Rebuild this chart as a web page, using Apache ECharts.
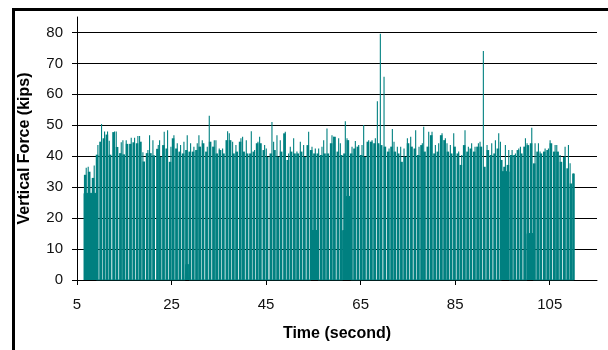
<!DOCTYPE html>
<html>
<head>
<meta charset="utf-8">
<title>Vertical Force</title>
<script src="https://cdn.jsdelivr.net/npm/echarts@6.0.0/dist/echarts.min.js"></script>
<style>
  html, body { margin: 0; padding: 0; background: #fff; }
  #chart { width: 608px; height: 350px; }
</style>
</head>
<body>
<div id="chart"></div>
<script>
// time of each force stroke (second)
const strokeTimes = [
  6.52, 6.95, 7.37, 7.79, 8.15, 8.64, 9.06, 9.42, 9.77, 10.19, 10.55, 10.83, 11.18, 11.46, 11.82, 12.17, 12.52, 12.94, 13.30, 13.65,
  14.00, 14.36, 14.71, 15.06, 15.41, 15.77, 16.12, 16.47, 16.82, 17.18, 17.53, 17.88, 18.24, 18.59, 18.94, 19.29, 19.65, 20.00, 20.35, 20.70,
  21.06, 21.41, 21.83, 22.19, 22.47,
  22.75, 23.10, 23.45, 23.81, 24.16, 24.51, 24.87, 25.15, 25.50, 25.85, 26.21, 26.56, 26.91, 27.26, 27.62, 27.97, 28.32, 28.68, 29.03, 29.38,
  29.73, 30.09, 30.44, 30.79, 31.14, 31.50, 31.85, 32.20, 32.56, 32.98, 33.33, 33.68, 34.04, 34.39, 34.74, 35.09, 35.45, 35.80, 36.15, 36.51,
  36.86, 37.21, 37.56, 37.92, 38.27, 38.62, 38.98, 39.33, 39.68, 40.03,
  40.46, 40.81, 41.16, 41.51, 41.87, 42.22, 42.57, 42.92, 43.28, 43.63, 43.98, 44.34, 44.69, 45.04, 45.39, 45.75, 46.24, 46.59, 46.95, 47.30,
  47.65, 48.00, 48.36, 48.71, 49.06, 49.41, 49.77, 50.12, 50.47, 50.83, 51.18, 51.53, 51.88, 52.24, 52.59, 52.94, 53.30, 53.65, 54.00, 54.35,
  54.71, 55.06, 55.41, 55.76, 56.12, 56.47, 56.82, 57.18, 57.53,
  57.88, 58.24, 58.59, 58.94, 59.30, 59.65, 60.00, 60.35, 60.71, 61.06, 61.41, 61.76, 62.12, 62.47, 62.82, 63.18, 63.53, 63.88, 64.23, 64.59,
  64.94, 65.29, 65.64, 66.00, 66.35, 66.70, 67.06, 67.41, 67.76, 68.11, 68.54, 68.89, 69.17, 69.52, 69.95, 70.30, 70.65, 71.01, 71.36, 71.71,
  72.06, 72.42, 72.77, 73.12, 73.47, 73.83, 74.18, 74.53, 74.89, 75.17,
  75.59, 75.94, 76.29, 76.64, 77.00, 77.35, 77.70, 78.05, 78.34, 78.69, 79.04, 79.40, 79.75, 80.10, 80.45, 80.81, 81.16, 81.51, 81.86, 82.22,
  82.57, 82.92, 83.27, 83.63, 83.98, 84.33, 84.69, 85.04, 85.39, 85.74, 86.03, 86.38, 86.73, 87.08, 87.44, 87.79, 88.14, 88.48, 88.85, 89.20,
  89.55, 89.91, 90.26, 90.61, 90.96, 91.39, 91.74, 92.09, 92.45, 92.73,
  93.16, 93.51, 93.86, 94.21, 94.57, 94.92, 95.27, 95.62, 95.98, 96.33, 96.68, 97.04, 97.39, 97.74, 98.09, 98.45, 98.80, 99.15, 99.50, 99.86,
  100.21, 100.56, 100.92, 101.20, 101.55, 101.90, 102.26, 102.61, 102.96, 103.31, 103.67, 104.02, 104.37, 104.73, 105.08, 105.43, 105.78, 106.14, 106.49, 106.84,
  107.19, 107.55, 107.90, 108.25, 108.61, 108.96, 109.31, 109.66, 110.02
];

// peak force of each stroke (kips)
const strokeForces = [
  34, 36.3, 36.6, 35, 33, 37, 40.5, 43.6, 44.7, 50.4, 45.8, 48, 47, 48, 45, 40.5, 47.8, 48, 48, 43,
  41, 44.5, 45.2, 40.6, 45.2, 44, 44, 46, 44.5, 46, 44.2, 46.5, 46.5, 44.7, 41.3, 38.3, 41, 42, 46.8, 41,
  45.2, 40.3, 42.4, 43.6, 45.2,
  39.8, 43.6, 47.9, 42.5, 48.4, 38.2, 43.1, 45.8, 46.8, 42.5, 44.2, 41.5, 43.6, 40.9, 44.7, 42, 46.8, 41.5, 44.2, 41.5,
  43.1, 42, 44.2, 46.8, 43.1, 45.2, 44.2, 41.5, 43.1, 53.1, 44.7, 43.1, 45.2, 45.2, 40.9, 42.5, 42, 42.5, 40.9, 45.2,
  48.1, 47.4, 45.2, 44.7, 40.9, 43.6, 41.5, 44.7, 45.8, 46.3,
  41.5, 45.2, 40.9, 40.9, 48.1, 41.5, 42, 44.2, 44.7, 46.3, 44.2, 42, 43.6, 42.5, 39.8, 40.9, 51.1, 44.7, 42, 46.8,
  39.8, 45.2, 41.5, 47.4, 47.9, 38.8, 40.9, 43.1, 41.5, 45.8, 40.9, 41.5, 40.9, 44.7, 41.5, 43.6, 39.8, 43.6, 47.9, 42,
  43.1, 40.9, 42.5, 40.9, 42.5, 40.4, 43.1, 45.2, 40.9,
  49, 40.9, 44.2, 46.8, 46.3, 46.3, 41.5, 45.8, 44.2, 40.4, 40.9, 51.3, 45.8, 45.2, 40.9, 43.1, 42.5, 44.9, 43.1, 43.6,
  40.4, 43.6, 50.1, 39.8, 44.7, 45.2, 44.7, 45.2, 44.2, 45.8, 57.8, 44.2, 79.6, 43.6, 65.7, 43.1, 41.5, 42.5, 43.1, 48.8,
  44.7, 41.5, 43.1, 40.9, 43.1, 38.2, 42.5, 39.8, 45.8, 44.2,
  46.3, 43.1, 42.5, 48.4, 40.4, 43.1, 43.6, 44.2, 49.5, 41.5, 43.1, 47.9, 46.8, 47.9, 40.9, 43.6, 41.5, 44.2, 46.8, 47.4,
  45.2, 45.8, 44.2, 41.5, 43.6, 40.9, 47.4, 43.1, 40.9, 41.5, 37.2, 40.4, 43.6, 48.4, 41.5, 43.1, 42.5, 44.2, 41.5, 43.1,
  43.1, 44.2, 44.7, 43.1, 74.0, 36.6, 43.6, 42, 40.4, 44.2,
  40.9, 45.2, 42.5, 47.4, 44.7, 38.8, 36.6, 43.6, 37.2, 42, 40.4, 42, 40.4, 40.9, 42, 42.5, 43.1, 40.9, 43.1, 45.8,
  44.2, 43.6, 44.2, 49.2, 37.7, 44.2, 41.5, 44.2, 41.5, 40.9, 41.5, 42.5, 42, 42.5, 45.2, 44.2, 41.5, 43.6, 43.6, 41.5,
  40.4, 38.2, 39.8, 43.1, 36.1, 43.6, 37.7, 31.2, 34.4
];

// force level between strokes where it does not fall back to zero
const floorTimes = [6.5, 6.5, 9.1, 9.1, 27.9, 28.0, 28.6, 28.7, 54.5, 54.5, 56.0, 56.0, 61.2, 61.2, 61.9, 61.9, 62.9, 62.9,
  94.8, 94.8, 96.4, 96.4, 100.2, 100.2, 101.5, 101.5, 110.1];
const floorForces = [0, 28, 28, 0, 0, 5, 5, 0, 0, 16, 16, 0, 0, 16, 16, 27, 27, 0,
  0, 35, 35, 0, 0, 15, 15, 0, 0];

const xTicks = [5, 25, 45, 65, 85, 105];
const yTicks = [0, 10, 20, 30, 40, 50, 60, 70, 80];

const teal = '#008080';
const font = "'Liberation Sans', Arial, sans-serif";

// two strokes make one block; the taller one sticks up as a thin spike
const blockData = [];
const spikeData = [];
for (let i = 0; i < strokeTimes.length; i += 2) {
  const j = Math.min(i + 1, strokeTimes.length - 1);
  const hi = strokeForces[i] >= strokeForces[j] ? i : j;
  blockData.push([(strokeTimes[i] + strokeTimes[j]) / 2, Math.min(strokeForces[i], strokeForces[j])]);
  spikeData.push([strokeTimes[hi], strokeForces[hi]]);
}
const floorData = floorTimes.map((t, i) => [t, floorForces[i]]);

const chart = echarts.init(document.getElementById('chart'));

const option = {
  animation: false,
  backgroundColor: '#fff',
  textStyle: { fontFamily: font },
  grid: { left: 77, right: 11, top: 17, bottom: 70, outerBoundsMode: 'none' },
  graphic: [
    {
      type: 'rect',
      shape: { x: 13.5, y: 9.5, width: 700, height: 500 },
      style: { fill: 'none', stroke: '#000', lineWidth: 3 },
      silent: true,
    },
  ],
  xAxis: [
    {
      type: 'value',
      min: 5,
      max: 115,
      name: 'Time (second)',
      nameLocation: 'middle',
      nameGap: 46,
      nameTextStyle: { fontFamily: font, fontSize: 16, fontWeight: 'bold', color: '#000' },
      axisLine: { show: true, onZero: false, lineStyle: { color: '#000', width: 1 } },
      axisTick: { show: true, length: 5, customValues: xTicks, lineStyle: { color: '#000' } },
      axisLabel: { customValues: xTicks, margin: 17, fontSize: 15, color: '#111', fontFamily: font },
      splitLine: { show: false },
    },
    {
      type: 'value',
      min: 5,
      max: 115,
      show: false,
    },
  ],
  yAxis: {
    type: 'value',
    min: 0,
    max: 85,
    name: 'Vertical Force (kips)',
    nameLocation: 'middle',
    nameGap: 44,
    nameTextStyle: { fontFamily: font, fontSize: 16, fontWeight: 'bold', color: '#000' },
    axisLine: { show: true, lineStyle: { color: '#000', width: 1 } },
    axisTick: { show: true, length: 5, customValues: yTicks, lineStyle: { color: '#000' } },
    axisLabel: { customValues: yTicks, margin: 14, fontSize: 15, color: '#111', fontFamily: font },
    splitLine: { show: true, lineStyle: { color: '#000', width: 1 } },
  },
  series: [
    {
      name: 'floor',
      type: 'line',
      data: floorData,
      symbol: 'none',
      lineStyle: { color: teal, width: 1 },
      areaStyle: { color: teal, opacity: 1 },
      z: 2,
    },
    {
      name: 'blocks',
      type: 'bar',
      data: blockData,
      barWidth: 2.6,
      itemStyle: { color: teal },
      z: 3,
    },
    {
      name: 'spikes',
      type: 'bar',
      xAxisIndex: 1,
      data: spikeData,
      barWidth: 1.1,
      itemStyle: { color: teal },
      z: 4,
    },
  ],
};

chart.setOption(option);
</script>
</body>
</html>
